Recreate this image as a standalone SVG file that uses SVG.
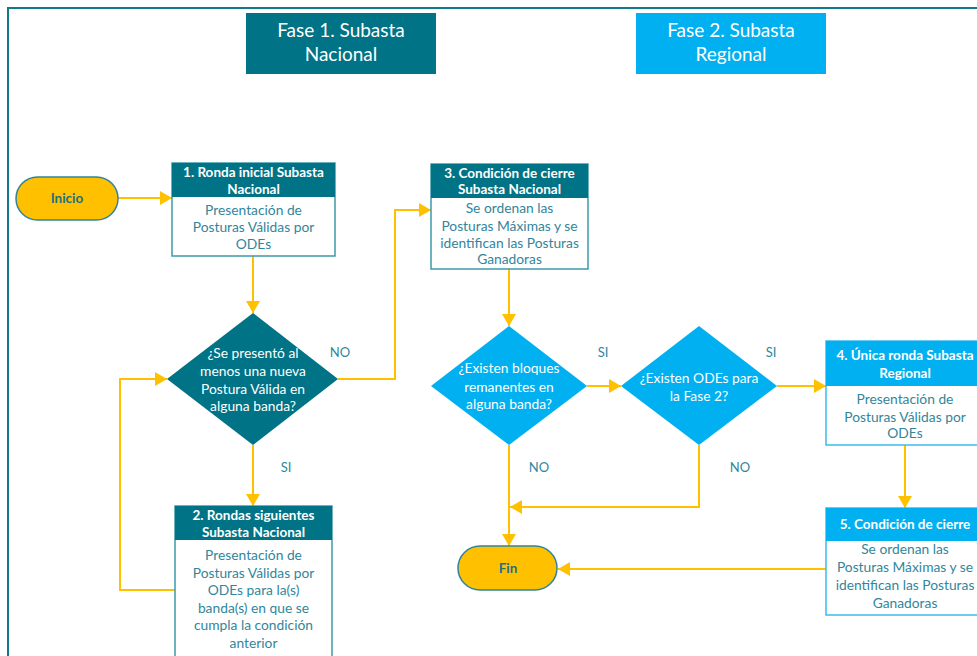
<svg xmlns="http://www.w3.org/2000/svg" width="977" height="656" viewBox="0 0 977 656">
<defs>
<style>
.t{font-family:Lato,"Open Sans","Liberation Sans",sans-serif;text-anchor:middle}
.title{font-size:19px;fill:#ffffff}
.hd{font-size:13.5px;font-weight:bold;fill:#ffffff}
.bd{font-size:13.8px;fill:#31869B}
.dm{font-size:13.8px;fill:#ffffff}
.lb{font-size:13px;fill:#31869B}
.pill{font-size:13.5px;font-weight:bold;fill:#1F6F80}
.c{fill:none;stroke:#FFC000;stroke-width:2}
.bx1{fill:#ffffff;stroke:#3C9AAA;stroke-width:1.5}
.bx2{fill:#ffffff;stroke:#3DBBEF;stroke-width:1.5}
</style>
<marker id="ah" markerUnits="userSpaceOnUse" markerWidth="12" markerHeight="14" refX="12" refY="7" orient="auto">
<path d="M0,0 L12,7 L0,14 z" fill="#FFC000"/>
</marker>
</defs>
<rect width="977" height="656" fill="#ffffff"/>
<rect x="8" y="8" width="1000" height="700" fill="none" stroke="#0E7A8C" stroke-width="2"/>

<g id="fase1">
<rect x="246" y="13" width="190" height="61" fill="#007386"/>
<text class="t title" x="341" y="37">Fase 1. Subasta</text>
<text class="t title" x="341" y="61">Nacional</text>
</g>
<g id="fase2">
<rect x="636" y="13" width="190" height="61" fill="#00B0F0"/>
<text class="t title" x="731" y="37">Fase 2. Subasta</text>
<text class="t title" x="731" y="61">Regional</text>
</g>

<g id="connectors">
<path class="c" d="M118,198 L172,198" marker-end="url(#ah)"/>
<path class="c" d="M253,256 L253,313" marker-end="url(#ah)"/>
<path class="c" d="M338,379 L395,379 L395,210 L431,210" marker-end="url(#ah)"/>
<path class="c" d="M253,445 L253,506" marker-end="url(#ah)"/>
<path class="c" d="M175,590 L120,590 L120,379 L167,379" marker-end="url(#ah)"/>
<path class="c" d="M509,269 L509,326" marker-end="url(#ah)"/>
<path class="c" d="M587,386 L621,386" marker-end="url(#ah)"/>
<path class="c" d="M777,386 L826,386" marker-end="url(#ah)"/>
<path class="c" d="M905,445 L905,508" marker-end="url(#ah)"/>
<path class="c" d="M826,569 L558,569" marker-end="url(#ah)"/>
<path class="c" d="M509,445 L509,546" marker-end="url(#ah)"/>
<path class="c" d="M699,445 L699,507 L510,507" marker-end="url(#ah)"/>
<text class="t lb" x="340" y="357">NO</text>
<text class="t lb" x="286" y="472">SI</text>
<text class="t lb" x="603" y="357">SI</text>
<text class="t lb" x="771" y="357">SI</text>
<text class="t lb" x="539" y="472">NO</text>
<text class="t lb" x="740" y="472">NO</text>
</g>

<g id="inicio">
<rect x="16" y="177" width="102" height="43" rx="21.5" fill="#FFC000" stroke="#31849B" stroke-width="1.5"/>
<text class="t pill" x="67" y="203">Inicio</text>
</g>

<g id="box1">
<rect class="bx1" x="172" y="163" width="163" height="93"/>
<rect x="172" y="163" width="163" height="34" fill="#007386"/>
<text class="t hd" x="253.5" y="177">1. Ronda inicial Subasta</text>
<text class="t hd" x="253.5" y="194">Nacional</text>
<text class="t bd" x="253.5" y="215">Presentación de</text>
<text class="t bd" x="253.5" y="232">Posturas Válidas por</text>
<text class="t bd" x="253.5" y="249">ODEs</text>
</g>

<g id="d1">
<polygon points="253,313 338,379 253,445 167,379" fill="#007386"/>
<text class="t dm" x="253" y="358">¿Se presentó al</text>
<text class="t dm" x="253" y="376">menos una nueva</text>
<text class="t dm" x="253" y="394">Postura Válida en</text>
<text class="t dm" x="253" y="411">alguna banda?</text>
</g>

<g id="box2">
<rect class="bx1" x="175" y="506" width="157" height="170"/>
<rect x="175" y="506" width="157" height="34" fill="#007386"/>
<text class="t hd" x="253.5" y="520">2. Rondas siguientes</text>
<text class="t hd" x="253.5" y="537">Subasta Nacional</text>
<text class="t bd" x="253.5" y="560">Presentación de</text>
<text class="t bd" x="253.5" y="578">Posturas Válidas por</text>
<text class="t bd" x="253.5" y="595">ODEs para la(s)</text>
<text class="t bd" x="253.5" y="613">banda(s) en que se</text>
<text class="t bd" x="253.5" y="630">cumpla la condición</text>
<text class="t bd" x="253.5" y="648">anterior</text>
</g>

<g id="box3">
<rect class="bx1" x="431" y="164" width="157" height="105"/>
<rect x="431" y="164" width="157" height="34" fill="#007386"/>
<text class="t hd" x="509.5" y="178">3. Condición de cierre</text>
<text class="t hd" x="509.5" y="194">Subasta Nacional</text>
<text class="t bd" x="509.5" y="213">Se ordenan las</text>
<text class="t bd" x="509.5" y="231">Posturas Máximas y se</text>
<text class="t bd" x="509.5" y="248">identifican las Posturas</text>
<text class="t bd" x="509.5" y="264">Ganadoras</text>
</g>

<g id="d2">
<polygon points="509,326 587,386 509,445 431,386" fill="#00B0F0"/>
<text class="t dm" x="509" y="373">¿Existen bloques</text>
<text class="t dm" x="509" y="392">remanentes en</text>
<text class="t dm" x="509" y="409">alguna banda?</text>
</g>

<g id="d3">
<polygon points="699,326 777,386 699,445 621,386" fill="#00B0F0"/>
<text class="t dm" x="699" y="383">¿Existen ODEs para</text>
<text class="t dm" x="699" y="401">la Fase 2?</text>
</g>

<g id="box4">
<rect class="bx2" x="826" y="341" width="158" height="104"/>
<rect x="826" y="341" width="158" height="45" fill="#00B0F0"/>
<text class="t hd" x="905" y="360">4. Única ronda Subasta</text>
<text class="t hd" x="905" y="378">Regional</text>
<text class="t bd" x="905" y="404">Presentación de</text>
<text class="t bd" x="905" y="422">Posturas Válidas por</text>
<text class="t bd" x="905" y="438">ODEs</text>
</g>

<g id="box5">
<rect class="bx2" x="826" y="508" width="158" height="107"/>
<rect x="826" y="508" width="158" height="33" fill="#00B0F0"/>
<text class="t hd" x="905" y="529">5. Condición de cierre</text>
<text class="t bd" x="905" y="554">Se ordenan las</text>
<text class="t bd" x="905" y="572">Posturas Máximas y se</text>
<text class="t bd" x="905" y="590">identifican las Posturas</text>
<text class="t bd" x="905" y="608">Ganadoras</text>
</g>

<g id="fin">
<rect x="458" y="546" width="99" height="44" rx="22" fill="#FFC000" stroke="#31849B" stroke-width="1.5"/>
<text class="t pill" x="508" y="573">Fin</text>
</g>
</svg>
